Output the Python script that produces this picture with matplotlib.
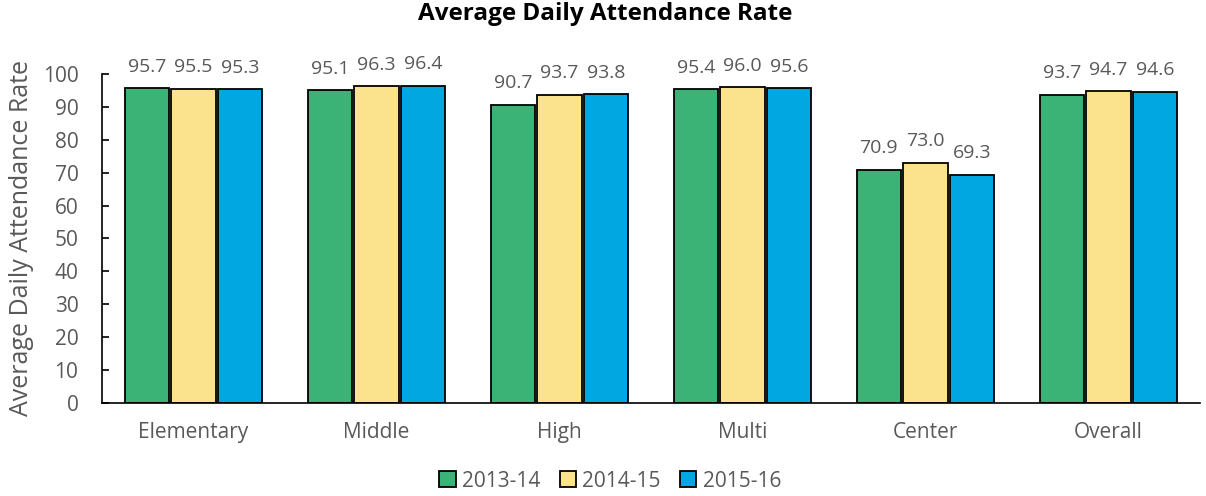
import matplotlib

matplotlib.use('Agg')
import matplotlib.pyplot as plt
import numpy as np

categories = ['Elementary', 'Middle', 'High', 'Multi', 'Center', 'Overall']
years = ['2013-14', '2014-15', '2015-16']
rate_1314 = [95.7, 95.1, 90.7, 95.4, 70.9, 93.7]
rate_1415 = [95.5, 96.3, 93.7, 96.0, 73.0, 94.7]
rate_1516 = [95.3, 96.4, 93.8, 95.6, 69.3, 94.6]

colors = ['#3BB377', '#FAE38C', '#00A7E1']
gray = '#595959'

plt.rcParams['font.family'] = ['Open Sans', 'DejaVu Sans']

fig = plt.figure(figsize=(12.06, 4.96), dpi=100)
ax = fig.add_axes([0.0846, 0.1875, 0.9104, 0.6635])

x = np.arange(len(categories))
w = 0.255
series = [rate_1314, rate_1415, rate_1516]
for i, vals in enumerate(series):
    pos = x + (i - 1) * w
    ax.bar(pos, vals, width=w - 0.012, color=colors[i], edgecolor='black',
           linewidth=1.3, label=years[i])
    for p, v in zip(pos, vals):
        ax.annotate('%.1f' % v, (p, v), xytext=(0, 9), textcoords='offset points',
                    ha='center', va='bottom', fontsize=14, color=gray)

ax.set_xlim(-0.5, len(categories) - 0.5)
ax.set_ylim(0, 100)
ax.set_yticks(np.arange(0, 101, 10))
ax.set_xticks(x)
ax.set_xticklabels(categories)
ax.tick_params(axis='y', direction='in', length=5, width=1.2, colors='black',
               labelcolor=gray, labelsize=15, pad=17)
ax.tick_params(axis='x', length=0, labelcolor=gray, labelsize=15, pad=14)
for s in ['top', 'right']:
    ax.spines[s].set_visible(False)
ax.spines['left'].set_linewidth(1.2)
ax.spines['bottom'].set_linewidth(1.2)
ax.set_ylabel('Average Daily Attendance Rate', fontsize=18, color=gray, labelpad=6)
fig.suptitle('Average Daily Attendance Rate', fontsize=17.5, fontweight='bold',
             x=0.502, y=0.995)

fig.legend(loc='center', bbox_to_anchor=(0.506, 0.03), ncol=3, frameon=False,
           fontsize=15, labelcolor=gray, handlelength=0.8, handleheight=0.8,
           handletextpad=0.3, columnspacing=0.9, borderpad=0.1)

fig.savefig('out.png', dpi=100)
